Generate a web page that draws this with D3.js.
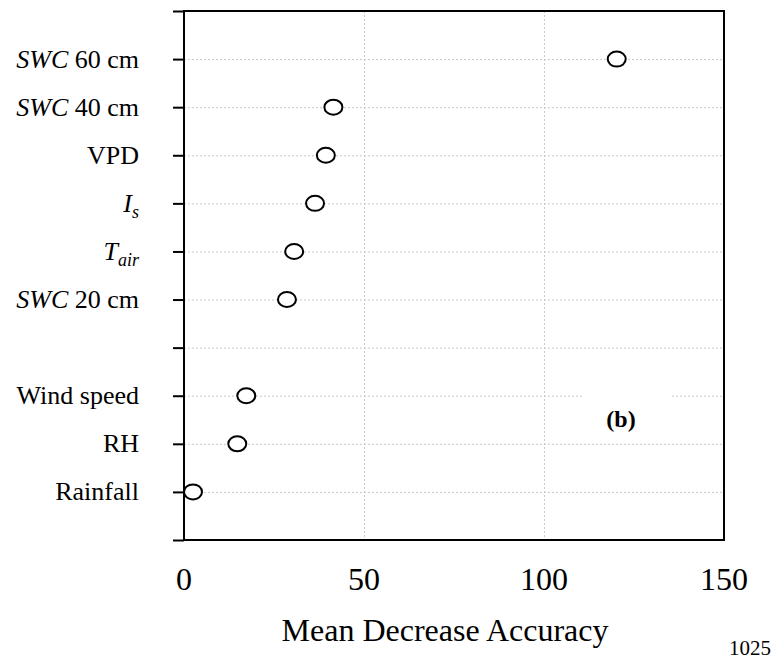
<!DOCTYPE html>
<html lang="en">
<head>
  <meta charset="UTF-8">
  <title>Mean Decrease Accuracy</title>
  <style>
    body { margin: 0; background: #fff; }
    text { font-family: "Liberation Serif", "Times New Roman", serif; fill: #000; }
  </style>
</head>
<body>
  <svg width="776" height="663"></svg>
  <script src="https://cdn.jsdelivr.net/npm/d3@7"></script>
  <script>
    // rows from top to bottom; "gap" rows are empty slots on the axis
    var rows = ["top", "swc60", "swc40", "vpd", "is", "tair", "swc20", "gap", "wind", "rh", "rain", "bottom"]
    // each label as [text, italic?, subscript?] pieces
    var labels = {
      swc60: [["SWC", 1, 0], [" 60 cm", 0, 0]],
      swc40: [["SWC", 1, 0], [" 40 cm", 0, 0]],
      vpd: [["VPD", 0, 0]],
      is: [["I", 1, 0], ["s", 1, 1]],
      tair: [["T", 1, 0], ["air", 1, 1]],
      swc20: [["SWC", 1, 0], [" 20 cm", 0, 0]],
      wind: [["Wind speed", 0, 0]],
      rh: [["RH", 0, 0]],
      rain: [["Rainfall", 0, 0]]
    }
    var pointKeys = ["swc60", "swc40", "vpd", "is", "tair", "swc20", "wind", "rh", "rain"]
    var pointValues = [120.2, 41.5, 39.4, 36.4, 30.6, 28.6, 17.3, 14.8, 2.5]
    var xTicks = [0, 50, 100, 150]

    var svg = d3.select("svg")
    // plot box (window.top is reserved, so other names)
    var pL = 184, pR = 724, pT = 11, pB = 540

    var x = d3.scaleLinear().domain([0, 150]).range([pL, pR])
    var y = d3.scalePoint().domain(rows).range([pT, pB])

    // grid
    var grid = svg.append("g")
      .attr("stroke", "#c8c8c8")
      .attr("stroke-width", 1)
      .attr("stroke-dasharray", "2,2")
    grid.selectAll(".hg")
      .data(rows.slice(1, -1))
      .enter()
      .append("line")
      .attr("x1", pL).attr("x2", pR)
      .attr("y1", function (d) { return y(d) + 0.5 })
      .attr("y2", function (d) { return y(d) + 0.5 })
    grid.selectAll(".vg")
      .data([50, 100])
      .enter()
      .append("line")
      .attr("x1", function (d) { return x(d) + 0.5 })
      .attr("x2", function (d) { return x(d) + 0.5 })
      .attr("y1", pT).attr("y2", pB)

    // white patch behind the panel letter
    svg.append("rect")
      .attr("x", 583).attr("y", 393)
      .attr("width", 89).attr("height", 49)
      .attr("fill", "#fff")

    // y axis with outer ticks, labels drawn separately
    svg.append("g")
      .attr("transform", "translate(" + pL + ",0)")
      .call(d3.axisLeft(y).tickSize(11).tickFormat(""))
      .call(function (g) {
        g.select(".domain").remove()
        g.selectAll("line").attr("stroke", "#000").attr("stroke-width", 2)
      })

    // frame
    svg.append("path")
      .attr("d", "M" + pL + "," + pT + "H" + pR + "V" + pB + "H" + pL + "Z")
      .attr("fill", "none")
      .attr("stroke", "#000")
      .attr("stroke-width", 2)

    // category labels
    var lab = svg.append("g").attr("font-size", 26).attr("text-anchor", "end")
    rows.forEach(function (r) {
      if (!labels[r]) return
      var t = lab.append("text")
        .attr("x", 139)
        .attr("y", y(r))
        .attr("dy", "0.33em")
      labels[r].forEach(function (p) {
        var s = t.append("tspan").text(p[0])
        if (p[1]) s.attr("font-style", "italic")
        if (p[2]) s.attr("font-size", 18).attr("dy", 6)
      })
    })

    // x tick labels
    svg.append("g")
      .selectAll("text")
      .data(xTicks)
      .enter()
      .append("text")
      .attr("x", function (d) { return x(d) })
      .attr("y", 590)
      .attr("text-anchor", "middle")
      .attr("font-size", 32)
      .text(function (d) { return d })

    svg.append("text")
      .attr("x", 445).attr("y", 641)
      .attr("text-anchor", "middle")
      .attr("font-size", 32)
      .text("Mean Decrease Accuracy")

    svg.append("text")
      .attr("x", 771).attr("y", 655)
      .attr("text-anchor", "end")
      .attr("font-size", 21)
      .text("1025")

    svg.append("text")
      .attr("x", 621).attr("y", 427)
      .attr("text-anchor", "middle")
      .attr("font-size", 24)
      .attr("font-weight", "bold")
      .text("(b)")

    // points
    svg.append("g")
      .selectAll("ellipse")
      .data(pointValues)
      .enter()
      .append("ellipse")
      .attr("cx", function (d) { return x(d) })
      .attr("cy", function (d, i) { return y(pointKeys[i]) })
      .attr("rx", 9)
      .attr("ry", 7.5)
      .attr("fill", "#fff")
      .attr("stroke", "#000")
      .attr("stroke-width", 2)
  </script>
</body>
</html>
